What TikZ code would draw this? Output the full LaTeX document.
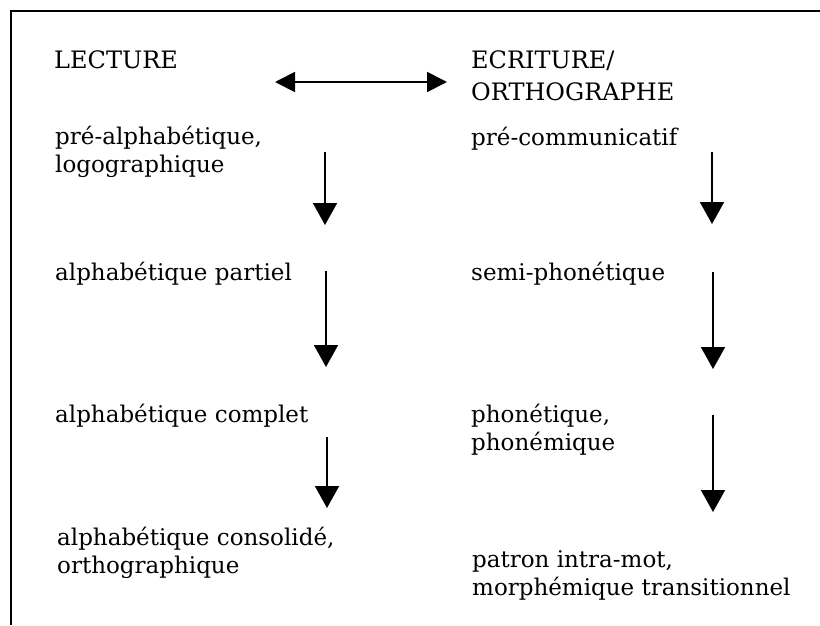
\documentclass[tikz,border=0pt]{standalone}
\usepackage{fontspec}
\setmainfont{DejaVu Serif}
\usetikzlibrary{arrows.meta}

\begin{document}
\begin{tikzpicture}[x=1pt,y=-1pt,
    stage/.style={anchor=base west,align=left,font=\fontsize{23}{28}\selectfont},
    head/.style={anchor=base west,align=left,font=\fontsize{24}{32}\selectfont},
    down/.style={line width=1.8pt,-{Triangle[length=22pt,width=24pt]}},
    both/.style={line width=1.8pt,{Triangle[length=20pt,width=20pt]}-{Triangle[length=20pt,width=20pt]}}]
    \tikzstyle{every node}+=[inner sep=0pt]
    \useasboundingbox (0,0) rectangle (820,625);
    \draw [line width=1.6pt] (820,11) -- (11,11) -- (11,625);
    % headings (base = last line)
    \node [head] (lecture) at (54,68) {LECTURE};
    \node [head] (ecriture) at (471,100) {ECRITURE/\\ORTHOGRAPHE};
    \coordinate (hl) at (275,82);
    \coordinate (hr) at (447,82);
    \draw [both] (hl) -- (hr);
    % lecture
    \node [stage] (l1) at (55,172) {pré-alphabétique,\\logographique};
    \node [stage] (l2) at (55,280) {alphabétique partiel};
    \node [stage] (l3) at (55,422) {alphabétique complet};
    \node [stage] (l4) at (57,573) {alphabétique consolidé,\\orthographique};
    % ecriture
    \node [stage] (e1) at (471,145) {pré-communicatif};
    \node [stage] (e2) at (471,280) {semi-phonétique};
    \node [stage] (e3) at (471,450) {phonétique,\\phonémique};
    \node [stage] (e4) at (472,595) {patron intra-mot,\\morphémique transitionnel};
    % arrows
    \coordinate (la1) at (325,152); \coordinate (lb1) at (325,225);
    \coordinate (la2) at (326,271); \coordinate (lb2) at (326,367);
    \coordinate (la3) at (327,437); \coordinate (lb3) at (327,508);
    \coordinate (ra1) at (712,152); \coordinate (rb1) at (712,224);
    \coordinate (ra2) at (713,272); \coordinate (rb2) at (713,369);
    \coordinate (ra3) at (713,415); \coordinate (rb3) at (713,512);
    \foreach \i in {1,2,3} {
      \draw [down] (la\i) -- (lb\i);
      \draw [down] (ra\i) -- (rb\i);
    }
\end{tikzpicture}
\end{document}
